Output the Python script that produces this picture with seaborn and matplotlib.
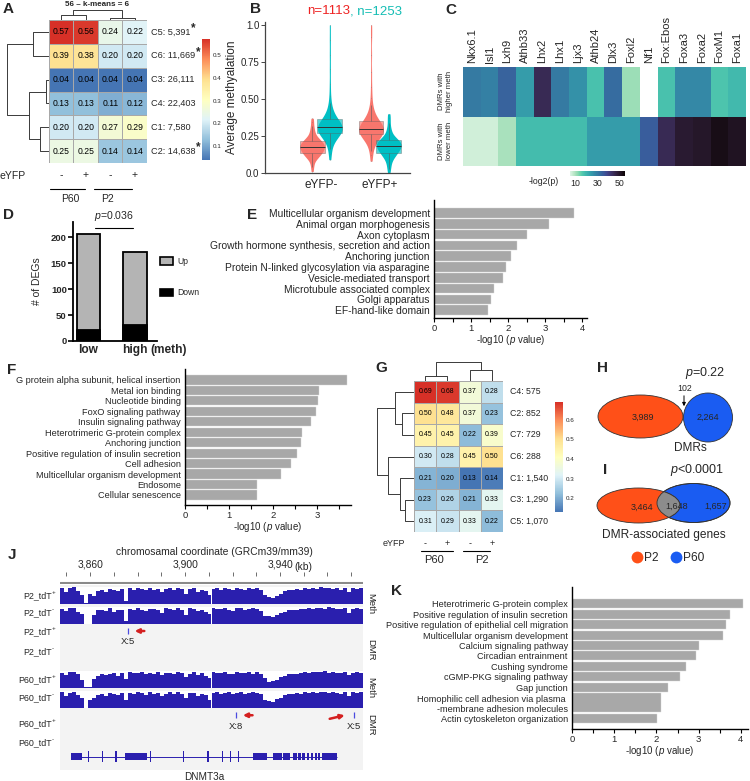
import numpy as np
import pandas as pd
import matplotlib
matplotlib.use('Agg')
import matplotlib.pyplot as plt
import seaborn as sns
from matplotlib.patches import Ellipse, Patch
from matplotlib.lines import Line2D
from matplotlib.colors import LinearSegmentedColormap

sns.set_style('ticks')
plt.rcParams['font.family'] = ['Liberation Sans', 'DejaVu Sans']
plt.rcParams['mathtext.fontset'] = 'custom'
plt.rcParams['mathtext.rm'] = 'Liberation Sans'
plt.rcParams['mathtext.it'] = 'Liberation Sans:italic'
plt.rcParams['mathtext.bf'] = 'Liberation Sans:bold'
plt.rcParams['axes.linewidth'] = 0.9

# ------------------------------------------------------------------ data
# A
A_cols = ['P60-', 'P60+', 'P2-', 'P2+']
A_signs = ['-', '+', '-', '+']
A_rows = ['C5', 'C6', 'C3', 'C4', 'C1', 'C2']
A_counts = ['5,391', '11,669', '26,111', '22,403', '7,580', '14,638']
A_star = [True, True, False, False, False, True]
A_values = [[0.57, 0.56, 0.24, 0.22],
            [0.39, 0.38, 0.20, 0.20],
            [0.04, 0.04, 0.04, 0.04],
            [0.13, 0.13, 0.11, 0.12],
            [0.20, 0.20, 0.27, 0.29],
            [0.25, 0.25, 0.14, 0.14]]
A_row_tree = (('C5', 'C6', 16), (('C3', 'C4', 3), ('C1', 'C2', 9), 20), 42)
A_col_tree = (('P60-', 'P60+', 5), ('P2-', 'P2+', 2), 10)

# B
B_groups = ['eYFP-', 'eYFP+']
B_sets = ['n=1113', 'n=1253']
B_red_minus = [0.01, 0.04, 0.06, 0.08, 0.09, 0.10, 0.105, 0.11, 0.115, 0.12, 0.125, 0.13,
               0.133, 0.136, 0.14, 0.143, 0.146, 0.15, 0.153, 0.156, 0.16, 0.163, 0.166,
               0.17, 0.172, 0.175, 0.178, 0.18, 0.182, 0.185, 0.188, 0.19, 0.193, 0.196,
               0.20, 0.203, 0.206, 0.21, 0.214, 0.218, 0.222, 0.226, 0.23, 0.235, 0.24,
               0.25, 0.26, 0.27, 0.285, 0.30, 0.32, 0.345, 0.37]
B_teal_minus = [0.09, 0.13, 0.16, 0.19, 0.21, 0.225, 0.235, 0.245, 0.25, 0.255, 0.26, 0.265,
                0.27, 0.273, 0.276, 0.28, 0.283, 0.286, 0.29, 0.292, 0.295, 0.298, 0.30,
                0.302, 0.305, 0.308, 0.31, 0.313, 0.316, 0.32, 0.324, 0.328, 0.332, 0.336,
                0.34, 0.345, 0.35, 0.356, 0.362, 0.37, 0.38, 0.39, 0.40, 0.42, 0.44, 0.47,
                0.52, 0.60, 0.70, 0.80, 0.90, 1.00]
B_red_plus = [0.08, 0.12, 0.15, 0.18, 0.20, 0.215, 0.225, 0.235, 0.24, 0.245, 0.25, 0.255,
              0.26, 0.263, 0.266, 0.27, 0.273, 0.276, 0.28, 0.282, 0.285, 0.288, 0.29, 0.292,
              0.295, 0.298, 0.30, 0.303, 0.306, 0.31, 0.314, 0.318, 0.322, 0.326, 0.33,
              0.335, 0.34, 0.346, 0.352, 0.36, 0.37, 0.38, 0.39, 0.41, 0.43, 0.46, 0.51,
              0.58, 0.68, 0.80, 0.92, 1.00]
B_teal_plus = [0.00, 0.03, 0.05, 0.07, 0.085, 0.095, 0.105, 0.115, 0.12, 0.125, 0.13, 0.135,
               0.14, 0.145, 0.15, 0.155, 0.16, 0.163, 0.166, 0.17, 0.173, 0.176, 0.18, 0.183,
               0.186, 0.19, 0.193, 0.196, 0.20, 0.203, 0.206, 0.21, 0.214, 0.218, 0.222,
               0.226, 0.23, 0.236, 0.243, 0.25, 0.26, 0.275, 0.29, 0.31, 0.34, 0.37, 0.40]

# C
C_motifs = ['Nkx6.1', 'Isl1', 'Lxh9', 'Athb33', 'Lhx2', 'Lhx1', 'Ljx3', 'Athb24', 'Dlx3',
            'Foxl2', 'Nf1', 'Fox:Ebos', 'Foxa3', 'Foxa2', 'FoxM1', 'Foxa1']
C_rows = ['DMRs with\nhigher meth', 'DMRs with\nlower meth']
C_high = [30, 29, 34, 24, 45, 30, 26, 17.5, 32.5, 11, np.nan, 17.5, 27.5, 27.5, 17, 19]
C_low = [6.5, 6.5, 10, 18.5, 18.5, 18.5, 18.5, 24, 24, 24, 35, 45, 49, 50, 52.5, 51]

# D
D_groups = ['low', 'high']
D_total = [205, 171]
D_down = [21, 31]

# E
E_terms = ['Multicellular organism development', 'Animal organ morphogenesis', 'Axon cytoplasm',
           'Growth hormone synthesis, secretion and action', 'Anchoring junction',
           'Protein N-linked glycosylation via asparagine', 'Vesicle-mediated transport',
           'Microtubule associated complex', 'Golgi apparatus', 'EF-hand-like domain']
E_values = [3.78, 3.10, 2.50, 2.25, 2.08, 1.95, 1.87, 1.63, 1.54, 1.46]

# F
F_terms = ['G protein alpha subunit, helical insertion', 'Metal ion binding', 'Nucleotide binding',
           'FoxO signaling pathway', 'Insulin signaling pathway', 'Heterotrimeric G-protein complex',
           'Anchoring junction', 'Positive regulation of insulin secretion', 'Cell adhesion',
           'Multicellular organism development', 'Endosome', 'Cellular senescence']
F_values = [3.68, 3.05, 3.03, 2.97, 2.86, 2.66, 2.64, 2.54, 2.41, 2.19, 1.64, 1.64]

# G
G_rows = ['C4', 'C2', 'C7', 'C6', 'C1', 'C3', 'C5']
G_counts = ['575', '852', '729', '288', '1,540', '1,290', '1,070']
G_values = [[0.69, 0.68, 0.37, 0.28],
            [0.50, 0.48, 0.37, 0.23],
            [0.45, 0.45, 0.22, 0.39],
            [0.30, 0.28, 0.45, 0.50],
            [0.21, 0.20, 0.13, 0.14],
            [0.23, 0.26, 0.21, 0.33],
            [0.31, 0.29, 0.33, 0.22]]
G_row_tree = (('C4', ('C2', 'C7', 12), 19), ('C6', ('C1', ('C3', 'C5', 9), 14), 26), 37)
G_col_tree = (('P60-', 'P60+', 5), ('P2-', 'P2+', 11), 19)

# H / I
H_counts = [3989, 102, 2264]
H_p = '=0.22'
I_counts = [3464, 1648, 1657]
I_p = '<0.0001'
HI_sets = ['P2', 'P60']

# J
J_bin_start_kb = 3847.3
J_bin_kb = 1.68
J_P2_plus = [0.95, 0.70, 0.95, 1.00, 0.75, 0.55, 0.03, 0.60, 0.50, 0.75,
             0.85, 0.70, 0.90, 0.80, 0.75, 0.90, 0.15, 0.95, 0.85, 0.95,
             0.90, 0.80, 0.95, 0.85, 0.90, 0.70, 0.90, 0.95, 0.85, 0.95,
             0.90, 0.60, 0.90, 0.95, 0.70, 0.85, 0.75, 0.55, 0.90, 0.95,
             0.85, 0.95, 0.90, 0.80, 0.95, 0.90, 0.85, 0.95, 0.90, 0.95,
             0.80, 0.55, 0.40, 0.35, 0.50, 0.60, 0.75, 0.85, 0.80, 0.90,
             0.85, 0.95, 0.90, 0.95, 0.90, 1.00, 0.95, 0.95, 0.90, 0.95,
             0.85, 0.95, 0.70, 0.95, 0.90, 0.95]
J_P2_minus = [0.90, 0.75, 0.95, 0.95, 0.70, 0.60, 0.00, 0.00, 0.55, 0.80,
              0.80, 0.75, 0.95, 0.70, 0.80, 0.85, 0.20, 0.90, 0.80, 0.95,
              0.85, 0.75, 0.90, 0.90, 0.85, 0.65, 0.95, 0.90, 0.80, 0.95,
              0.85, 0.55, 0.95, 0.90, 0.75, 0.80, 0.70, 0.60, 0.95, 0.90,
              0.90, 0.95, 0.85, 0.75, 0.95, 0.95, 0.80, 0.90, 0.95, 0.90,
              0.75, 0.50, 0.45, 0.40, 0.55, 0.65, 0.70, 0.80, 0.85, 0.85,
              0.90, 0.90, 0.95, 0.90, 0.95, 0.95, 0.90, 1.00, 0.95, 0.90,
              0.90, 0.95, 0.65, 0.90, 0.95, 0.90]
J_P60_plus = [0.90, 0.75, 0.95, 0.95, 0.80, 0.50, 0.03, 0.03, 0.55, 0.70,
              0.80, 0.75, 0.85, 0.90, 0.70, 0.90, 0.55, 0.95, 0.90, 0.90,
              0.95, 0.80, 0.90, 0.85, 0.95, 0.75, 0.90, 0.90, 0.85, 0.95,
              0.90, 0.65, 0.85, 0.95, 0.75, 0.90, 0.70, 0.60, 0.95, 0.90,
              0.90, 0.95, 0.85, 0.85, 0.95, 0.90, 0.90, 0.95, 0.85, 0.95,
              0.85, 0.60, 0.35, 0.40, 0.45, 0.65, 0.70, 0.80, 0.85, 0.85,
              0.90, 0.95, 0.90, 0.95, 0.95, 0.95, 1.00, 0.90, 0.95, 0.90,
              0.90, 0.95, 0.75, 0.90, 0.95, 0.90]
J_P60_minus = [0.95, 0.70, 0.90, 0.95, 0.75, 0.60, 0.00, 0.50, 0.60, 0.75,
               0.85, 0.70, 0.90, 0.85, 0.75, 0.90, 0.50, 0.90, 0.85, 0.95,
               0.90, 0.75, 0.95, 0.85, 0.90, 0.70, 0.85, 0.95, 0.80, 0.95,
               0.85, 0.60, 0.90, 0.90, 0.70, 0.85, 0.75, 0.50, 0.90, 0.95,
               0.85, 0.90, 0.95, 0.80, 0.90, 0.95, 0.85, 0.90, 0.95, 0.90,
               0.80, 0.50, 0.40, 0.35, 0.55, 0.60, 0.75, 0.80, 0.80, 0.90,
               0.85, 0.95, 0.90, 0.95, 0.90, 0.95, 0.95, 0.90, 0.95, 0.90,
               0.85, 0.95, 0.70, 0.95, 0.90, 0.95]
J_dmr_P2_plus = [(3876.0, 'X:5')]
J_dmr_P60_plus = [(3921.6, 'X:8'), (3971.0, 'X:5')]
J_ticks_kb = [3850, 3860, 3870, 3880, 3890, 3900, 3910, 3920, 3930, 3940, 3950, 3960, 3970]
J_tick_labels = {3860: '3,860', 3900: '3,900', 3940: '3,940'}
J_exons = [(3852.0, 3856.6), (3858.9, 3859.7), (3864.9, 3865.5), (3870.5, 3871.2),
           (3874.8, 3884.0), (3885.3, 3885.7), (3899.0, 3899.4), (3909.3, 3910.2),
           (3912.0, 3912.4), (3915.6, 3916.0), (3919.0, 3919.4), (3922.5, 3922.9),
           (3928.8, 3934.7), (3937.2, 3941.0), (3941.4, 3944.4), (3945.6, 3947.0),
           (3947.6, 3948.8), (3949.4, 3950.6), (3951.2, 3952.4), (3953.0, 3954.0),
           (3954.6, 3955.5), (3956.0, 3957.0), (3957.9, 3964.0)]
J_gene = 'DNMT3a'

# K
K_terms = ['Heterotrimeric G-protein complex', 'Positive regulation of insulin secretion',
           'Positive regulation of epithelial cell migration', 'Multicellular organism development',
           'Calcium signaling pathway', 'Circadian entrainment', 'Cushing syndrome',
           'cGMP-PKG signaling pathway', 'Gap junction',
           'Homophilic cell adhesion via plasma \n-membrane adhesion molecules',
           'Actin cytoskeleton organization']
K_values = [4.04, 3.74, 3.64, 3.57, 3.00, 2.93, 2.70, 2.57, 2.27, 2.10, 2.01]

# ------------------------------------------------------------------ helpers
W, H = 750, 781
fig = plt.figure(figsize=(W / 100, H / 100), dpi=100)
pheat = LinearSegmentedColormap.from_list(
    'pheat', ['#4575b4', '#91bfdb', '#e0f3f8', '#ffffbf', '#fee090', '#fc8d59', '#d73027'])


def add_ax(x0, y0, x1, y1, **kw):
    return fig.add_axes([x0 / W, 1 - y1 / H, (x1 - x0) / W, (y1 - y0) / H], **kw)


def ftext(x, y, s, **kw):
    kw.setdefault('ha', 'center')
    kw.setdefault('va', 'center')
    return fig.text(x / W, 1 - y / H, s, **kw)


def draw_tree(ax, node, order, orient, color='#3a3a3a', lw=0.7):
    if isinstance(node, str):
        return order.index(node) + 0.5, 0.0
    left, right, h = node
    pl, hl = draw_tree(ax, left, order, orient, color, lw)
    pr, hr = draw_tree(ax, right, order, orient, color, lw)
    if orient == 'left':
        ax.plot([hl, h, h, hr], [pl, pl, pr, pr], color=color, lw=lw)
    else:
        ax.plot([pl, pl, pr, pr], [hl, h, h, hr], color=color, lw=lw)
    return (pl + pr) / 2, h


def blank(ax):
    ax.set_xticks([])
    ax.set_yticks([])
    for s in ax.spines.values():
        s.set_visible(False)
    ax.patch.set_alpha(0)


def panel(x, y, s):
    ftext(x, y, s, fontsize=11, fontweight='bold')


def hbar_style(ax, xmax, lab_size):
    sns.despine(ax=ax)
    for s in ['left', 'bottom']:
        ax.spines[s].set_linewidth(1.0)
        ax.spines[s].set_color('black')
    ax.set_xlim(0, xmax)
    ax.set_xticks(range(0, int(xmax) + 1))
    ax.set_xticks(np.arange(0.5, xmax, 1.0), minor=True)
    ax.tick_params(axis='x', which='both', length=3, width=0.8, labelsize=6.8, pad=1,
                   direction='out', color='black')
    ax.tick_params(axis='y', length=0, labelsize=lab_size, pad=3)
    ax.set_ylabel('')
    ax.set_xlabel('-log10 ($\\it{p}$ value)', fontsize=7, labelpad=0)


def heat_with_tree(x0, y0, x1, y1, values, rows, cols, row_tree, col_tree, vmin, vmax,
                   cax_box, cticks, annot_size, row_tree_w, col_tree_h):
    ax = add_ax(x0, y0, x1, y1)
    cax = add_ax(*cax_box)
    df = pd.DataFrame(values, index=rows, columns=cols)
    sns.heatmap(df, ax=ax, cmap=pheat, vmin=vmin, vmax=vmax, annot=True, fmt='.2f',
                annot_kws=dict(size=annot_size, color='black'), linewidths=0.7,
                linecolor='#a8a8a8', cbar_ax=cax, xticklabels=False, yticklabels=False)
    cb = ax.collections[0].colorbar
    cb.outline.set_visible(False)
    cb.set_ticks(cticks)
    cb.set_ticklabels([f'{t:.1f}' for t in cticks])
    cax.tick_params(labelsize=4.5, length=0, pad=2)
    ax.set_xlabel('')
    ax.set_ylabel('')
    tw, maxh = row_tree_w
    axr = add_ax(x0 - tw, y0, x0, y1)
    draw_tree(axr, row_tree, rows, 'left')
    axr.set_xlim(maxh, 0)
    axr.set_ylim(len(rows), 0)
    blank(axr)
    th, maxv = col_tree_h
    axc = add_ax(x0, y0 - th, x1, y0)
    draw_tree(axc, col_tree, cols, 'top')
    axc.set_xlim(0, len(cols))
    axc.set_ylim(0, maxv)
    blank(axc)
    return ax


orange = '#FF5018'
blue = '#1A5CF2'

# ------------------------------------------------------------------ A
axA = heat_with_tree(49, 20, 147, 163, A_values, A_rows, A_cols, A_row_tree, A_col_tree,
                     0.04, 0.57, (202, 39, 210, 160), [0.1, 0.2, 0.3, 0.4, 0.5], 6.2,
                     (46, 46), (13, 13))
star_texts = []
for i, (r, c) in enumerate(zip(A_rows, A_counts)):
    t = axA.text(4.17, i + 0.5, f'{r}: {c}', fontsize=6.6, ha='left', va='center')
    if A_star[i]:
        star_texts.append(t)
for j, s in enumerate(A_signs):
    axA.text(j + 0.5, 6.5, s, fontsize=7.5, ha='center', va='center', clip_on=False)
axA.plot([0.04, 1.47], [7.09, 7.09], color='black', lw=0.8, clip_on=False)
axA.plot([1.84, 3.39], [7.09, 7.09], color='black', lw=0.8, clip_on=False)
axA.text(0.86, 7.5, 'P60', fontsize=7.5, ha='center', va='center')
axA.text(2.39, 7.5, 'P2', fontsize=7.5, ha='center', va='center')
ftext(0, 176, 'eYFP', fontsize=7.5, ha='left')
ftext(97, 5, '56 \u2013 k-means = 6', fontsize=5.8, fontweight='bold')
panel(8, 9, 'A')

# ------------------------------------------------------------------ B
axB = add_ax(265, 22, 410, 173)
recs = []
for g, rv, tv in [(B_groups[0], B_red_minus, B_teal_minus), (B_groups[1], B_red_plus, B_teal_plus)]:
    recs += [(g, B_sets[0], v) for v in rv]
    recs += [(g, B_sets[1], v) for v in tv]
dfB = pd.DataFrame(recs, columns=['group', 'set', 'value'])
red_c, teal_c = '#F8766D', '#00BFC4'
sns.violinplot(data=dfB, x='group', y='value', hue='set', palette=[red_c, teal_c], width=0.6,
               gap=-0.4, inner=None, cut=0, density_norm='width', bw_adjust=0.6,
               linewidth=0, saturation=1, legend=False, ax=axB)
sns.boxplot(data=dfB, x='group', y='value', hue='set', palette=[red_c, teal_c], width=0.6,
            gap=-0.4, saturation=1, legend=False, ax=axB, linewidth=0.4, linecolor='#5a5a5a',
            fliersize=0.6, flierprops=dict(marker='o', markerfacecolor='#777777',
                                          markeredgecolor='none', alpha=0.6),
            boxprops=dict(alpha=0.65), medianprops=dict(color='#333333', lw=0.7),
            whiskerprops=dict(lw=0.4), capprops=dict(lw=0))
axB.set_xlim(-0.95, 1.51)
axB.set_ylim(0, 1.02)
axB.set_yticks([0, 0.25, 0.5, 0.75, 1.0])
axB.set_yticklabels(['0.0', '0.25', '0.50', '0.75', '1.0'])
sns.despine(ax=axB)
axB.spines['left'].set_color('#444444')
axB.spines['bottom'].set_color('#444444')
axB.tick_params(axis='y', labelsize=7, length=3, width=0.7, color='#444444', pad=1)
axB.tick_params(axis='x', labelsize=8.5, length=0, pad=4)
axB.set_xlabel('')
axB.set_ylabel('Average methyalation', fontsize=8.5, labelpad=2)
ftext(350, 11, B_sets[0], fontsize=9.5, color='#EE2222', ha='right')
ftext(350, 11, ', ' + B_sets[1], fontsize=9.5, color='#14BDB4', ha='left')
panel(255, 9, 'B')

# ------------------------------------------------------------------ C
axC = add_ax(463, 67, 746, 166)
caxC = add_ax(570, 171, 625, 176)
dfC = pd.DataFrame([C_high, C_low], index=C_rows, columns=C_motifs)
sns.heatmap(dfC, ax=axC, cmap='mako_r', vmin=5, vmax=55, cbar_ax=caxC,
            cbar_kws=dict(orientation='horizontal'), yticklabels=False, xticklabels=True)
axC.xaxis.tick_top()
axC.set_xticklabels(C_motifs, rotation=90, fontsize=8)
axC.tick_params(axis='x', length=0, pad=3)
axC.set_xlabel('')
axC.set_ylabel('')
for i, lab in enumerate(C_rows):
    axC.text(-0.55, i + 0.5, lab, rotation=90, ha='right', va='center', fontsize=5.6,
             multialignment='center')
cbC = axC.collections[0].colorbar
cbC.outline.set_visible(False)
cbC.set_ticks([10, 30, 50])
caxC.tick_params(labelsize=6.3, length=0, pad=2)
ftext(559, 182, '-log2(p)', fontsize=6.3, ha='right')
panel(451, 10, 'C')

# ------------------------------------------------------------------ D
axD = add_ax(73, 222, 157, 341)
sns.barplot(x=D_groups, y=D_total, color='#b4b4b4', edgecolor='black', linewidth=1.3,
            width=0.5, saturation=1, ax=axD)
sns.barplot(x=D_groups, y=D_down, color='black', edgecolor='black', linewidth=1.3,
            width=0.5, saturation=1, ax=axD)
axD.set_xlim(-0.33, 1.47)
axD.set_ylim(0, 229)
axD.set_yticks([0, 50, 100, 150, 200])
sns.despine(ax=axD)
for s in ['left', 'bottom']:
    axD.spines[s].set_linewidth(1.3)
    axD.spines[s].set_color('black')
axD.tick_params(axis='y', labelsize=6.8, length=3.5, width=1.2, pad=1, color='black')
axD.tick_params(axis='x', labelsize=8.6, length=0, pad=2)
for t in axD.get_yticklabels() + axD.get_xticklabels():
    t.set_fontweight('bold')
axD.set_ylabel('# of DEGs', fontsize=7.5, labelpad=6)
axD.plot([0.14, 0.96], [218, 218], color='black', lw=0.8, clip_on=False)
axD.text(0.55, 227, '$\\it{p}$=0.036', fontsize=7.6, ha='center', va='bottom', clip_on=False)
axD.legend(handles=[Patch(facecolor='#b4b4b4', edgecolor='black', lw=1.2),
                    Patch(facecolor='black', edgecolor='black', lw=1.2)],
           labels=['Up', 'Down'], loc='upper left', bbox_to_anchor=(160 / W, 1 - 257 / H),
           bbox_transform=fig.transFigure, frameon=False, fontsize=6.2, handlelength=1.5,
           handleheight=0.9, labelspacing=2.6, borderpad=0, borderaxespad=0,
           handletextpad=0.5)
panel(9, 215, 'D')

# ------------------------------------------------------------------ E
axE = add_ax(434, 200, 587, 318)
sns.barplot(x=E_values, y=E_terms, orient='h', color='#a8a8a8', width=0.9, saturation=1,
            edgecolor='#d8d8d8', linewidth=0.3, ax=axE)
axE.set_ylim(9.72, -1.2)
hbar_style(axE, 4.13, 7.4)
panel(252, 215, 'E')

# ------------------------------------------------------------------ F
axF = add_ax(185, 369, 351, 505)
sns.barplot(x=F_values, y=F_terms, orient='h', color='#a8a8a8', width=0.88, saturation=1,
            edgecolor='#d8d8d8', linewidth=0.3, ax=axF)
axF.set_ylim(11.96, -1.05)
hbar_style(axF, 3.77, 6.6)
panel(12, 370, 'F')

# ------------------------------------------------------------------ G
axG = heat_with_tree(414, 381, 503, 532, G_values, G_rows, A_cols, G_row_tree, G_col_tree,
                     0.13, 0.69, (555, 402, 563, 512), [0.2, 0.3, 0.4, 0.5, 0.6], 5.0,
                     (39, 39), (21, 21))
for i, (r, c) in enumerate(zip(G_rows, G_counts)):
    axG.text(4.3, i + 0.5, f'{r}: {c}', fontsize=6.3, ha='left', va='center')
for j, s in enumerate(A_signs):
    axG.text(j + 0.5, 7.55, s, fontsize=6.5, ha='center', va='center', clip_on=False)
axG.plot([0.3, 1.75], [7.9, 7.9], color='black', lw=0.8, clip_on=False)
axG.plot([2.2, 3.4], [7.9, 7.9], color='black', lw=0.8, clip_on=False)
axG.text(0.9, 8.3, 'P60', fontsize=8, ha='center', va='center')
axG.text(3.05, 8.3, 'P2', fontsize=8, ha='center', va='center')
axG.text(-0.9, 7.55, 'eYFP', fontsize=6.5, ha='center', va='center')
panel(381, 368, 'G')

# ------------------------------------------------------------------ H / I
axV = add_ax(590, 355, 750, 570)
axV.set_xlim(590, 750)
axV.set_ylim(570, 355)
axV.axis('off')
fmt = lambda n: f'{n:,}'
axV.add_patch(Ellipse((640.5, 416.5), 85, 43, fc=orange, ec='#333333', lw=0.6))
axV.add_patch(Ellipse((708, 417.5), 49, 49, fc=blue, ec='#333333', lw=0.6))
axV.text(643, 417, fmt(H_counts[0]), fontsize=6.5, ha='center', va='center')
axV.text(708, 417, fmt(H_counts[2]), fontsize=6.5, ha='center', va='center')
axV.text(685, 388, fmt(H_counts[1]), fontsize=6.3, ha='center', va='center')
axV.annotate('', xy=(684, 409), xytext=(684, 393),
             arrowprops=dict(arrowstyle='-|>', color='black', lw=0.7, mutation_scale=5))
axV.text(690, 448, 'DMRs', fontsize=8.5, ha='center', va='center')
axV.text(705, 373, '$\\it{p}$' + H_p, fontsize=9, ha='center', va='center')
e_blue = Ellipse((693.5, 503), 73, 39, fc=blue, ec='#333333', lw=0.6)
axV.add_patch(e_blue)
axV.add_patch(Ellipse((638.5, 505.5), 83, 35, fc=orange, ec='#333333', lw=0.6))
e_gray = Ellipse((638.5, 505.5), 83, 35, fc='#8c8c8c', ec='#333333', lw=0.6)
axV.add_patch(e_gray)
e_gray.set_clip_path(e_blue)
axV.add_patch(Ellipse((693.5, 503), 73, 39, fc='none', ec='#333333', lw=0.6))
axV.text(642, 507, fmt(I_counts[0]), fontsize=6.5, ha='center', va='center')
axV.text(677, 506, fmt(I_counts[1]), fontsize=6.5, ha='center', va='center')
axV.text(716, 506, fmt(I_counts[2]), fontsize=6.5, ha='center', va='center')
axV.text(697, 470, '$\\it{p}$' + I_p, fontsize=9, ha='center', va='center')
axV.text(664, 535, 'DMR-associated genes', fontsize=8.6, ha='center', va='center')
axV.legend(handles=[Line2D([], [], marker='o', ls='', ms=8.5, mfc=orange, mec='none'),
                    Line2D([], [], marker='o', ls='', ms=8.5, mfc=blue, mec='none')],
           labels=HI_sets, loc='center', bbox_to_anchor=(667 / W, 1 - 558 / H),
           bbox_transform=fig.transFigure, ncol=2, frameon=False, fontsize=8.6,
           handletextpad=0.0, columnspacing=0.8, borderpad=0, handlelength=1.2)
ftext(602, 368, 'H', fontsize=11, fontweight='bold')
ftext(605, 470, 'I', fontsize=11, fontweight='bold')

# ------------------------------------------------------------------ J
kb_lo = J_bin_start_kb
kb_hi = J_bin_start_kb + J_bin_kb * len(J_P2_plus)
bg = add_ax(60, 585, 363, 770)
bg.set_facecolor('#f3f3f3')
bg.set_xticks([])
bg.set_yticks([])
for s in bg.spines.values():
    s.set_visible(False)

axCo = add_ax(60, 572, 363, 584)
axCo.set_xlim(kb_lo, kb_hi)
axCo.set_ylim(0, 1)
for s in axCo.spines.values():
    s.set_visible(False)
axCo.axhline(0.05, color='#8a8a8a', lw=2.2)
axCo.set_yticks([])
axCo.xaxis.tick_top()
axCo.set_xticks(J_ticks_kb)
axCo.set_xticklabels([J_tick_labels.get(t, '') for t in J_ticks_kb])
axCo.tick_params(axis='x', direction='in', length=3, width=0.6, color='#555555',
                 labelsize=7.4, pad=2)
axCo.text(3940 + 6.2, 1.0, '(kb)', fontsize=7.4, ha='left', va='bottom',
          transform=axCo.transData)
axCo.patch.set_alpha(0)
ftext(214, 552, 'chromosamal coordinate (GRCm39/mm39)', fontsize=7.4)
panel(12, 555, 'J')

bin_centers = [kb_lo + (i + 0.5) * J_bin_kb for i in range(len(J_P2_plus))]
meth_tracks = [(J_P2_plus, 587, 604), (J_P2_minus, 607, 624),
               (J_P60_plus, 671, 688), (J_P60_minus, 691, 708)]
for vals, y0, y1 in meth_tracks:
    ax = add_ax(60, y0, 363, y1)
    ax.bar(bin_centers, vals, width=J_bin_kb, color='#2a1fae', linewidth=0)
    ax.set_xlim(kb_lo, kb_hi)
    ax.set_ylim(0, 1)
    blank(ax)
    ax.patch.set_alpha(1)
    ax.set_facecolor('white')

dmr_tracks = [(J_dmr_P2_plus, 626, 646), (J_dmr_P60_plus, 710, 731)]
for marks, y0, y1 in dmr_tracks:
    ax = add_ax(60, y0, 363, y1)
    ax.set_xlim(kb_lo, kb_hi)
    ax.set_ylim(1, 0)
    blank(ax)
    for k, (pos, lab) in enumerate(marks):
        ax.vlines(pos, 0.1, 0.4, color='#4b4be0', lw=0.9)
        ax.text(pos, 0.8, lab, fontsize=6.8, ha='center', va='center')
        if pos > kb_hi - 10:
            ax.annotate('', xy=(pos - 2.6, 0.22), xytext=(pos - 11.2, 0.45),
                        arrowprops=dict(arrowstyle='-|>', color='#d42020', lw=1.8,
                                        mutation_scale=6))
        else:
            ax.annotate('', xy=(pos + 1.6, 0.25), xytext=(pos + 8.0, 0.25),
                        arrowprops=dict(arrowstyle='-|>', color='#d42020', lw=1.8,
                                        mutation_scale=6))

axGene = add_ax(60, 749, 363, 764)
axGene.set_xlim(kb_lo, kb_hi)
axGene.set_ylim(0, 1)
blank(axGene)
axGene.hlines(0.5, J_exons[0][0], J_exons[-1][1], color='#2a1fae', lw=0.7)
for s0, s1 in J_exons:
    hgt = 0.45 if (s1 - s0) > 0.9 else 0.75
    axGene.broken_barh([(s0, s1 - s0)], (0.5 - hgt / 2, hgt), facecolor='#2a1fae',
                       edgecolor='none')
ftext(204, 777, J_gene, fontsize=7.2)

track_labels = [('P2_tdT', '+', 596), ('P2_tdT', '-', 613), ('P2_tdT', '+', 632),
                ('P2_tdT', '-', 652), ('P60_tdT', '+', 680), ('P60_tdT', '-', 698),
                ('P60_tdT', '+', 724), ('P60_tdT', '-', 743)]
for base, sup, y in track_labels:
    t = ftext(54, y, base, fontsize=6.4, ha='right')
for lab, y in [('Meth', 604), ('DMR', 650), ('Meth', 688), ('DMR', 725)]:
    ftext(371, y, lab, fontsize=6.8, rotation=-90)

# ------------------------------------------------------------------ K
axK = add_ax(572, 587, 748, 729)
slots = [t.count('\n') + 1 for t in K_terms]
centers, pos = [], 0
for s in slots:
    centers.append(pos + (s - 1) / 2)
    pos += s
axK.barh(centers, K_values, height=[s - 0.14 for s in slots], color='#a8a8a8',
         edgecolor='#d8d8d8', linewidth=0.3)
axK.set_yticks(centers)
axK.set_yticklabels(K_terms)
axK.set_ylim(12.03, -1.62)
hbar_style(axK, 4.17, 6.6)
panel(397, 591, 'K')

# ---- text placed after layout (asterisks, superscripts, "(meth)")
fig.canvas.draw()
rend = fig.canvas.get_renderer()
for t in star_texts:
    bb = t.get_window_extent(rend)
    fig.text((bb.x1 + 0.5) / W, (bb.y1 - 0.5) / H, '*', fontsize=8.5, fontweight='bold',
             ha='left', va='center')
for txt in fig.texts[:]:
    pass
for base, sup, y in track_labels:
    pass
# superscripts for track labels
lab_texts = [t for t in fig.texts if t.get_text() in ('P2_tdT', 'P60_tdT')]
for t, (base, sup, y) in zip(lab_texts, track_labels):
    bb = t.get_window_extent(rend)
    t.set_x((bb.x0 - 2.5) / W + (bb.x1 - bb.x0) / W)
for t, (base, sup, y) in zip(lab_texts, track_labels):
    bb = t.get_window_extent(rend)
    fig.text((bb.x1 + 0.2) / W, (bb.y1 - 1.5) / H, sup, fontsize=4.5, ha='left', va='center')
hi_lab = axD.get_xticklabels()[1]
bb = hi_lab.get_window_extent(rend)
fig.text((bb.x1 + 2.5) / W, bb.y0 / H, '(meth)', fontsize=8.6, fontweight='bold',
         ha='left', va='bottom')

fig.savefig('out.png', dpi=100)
